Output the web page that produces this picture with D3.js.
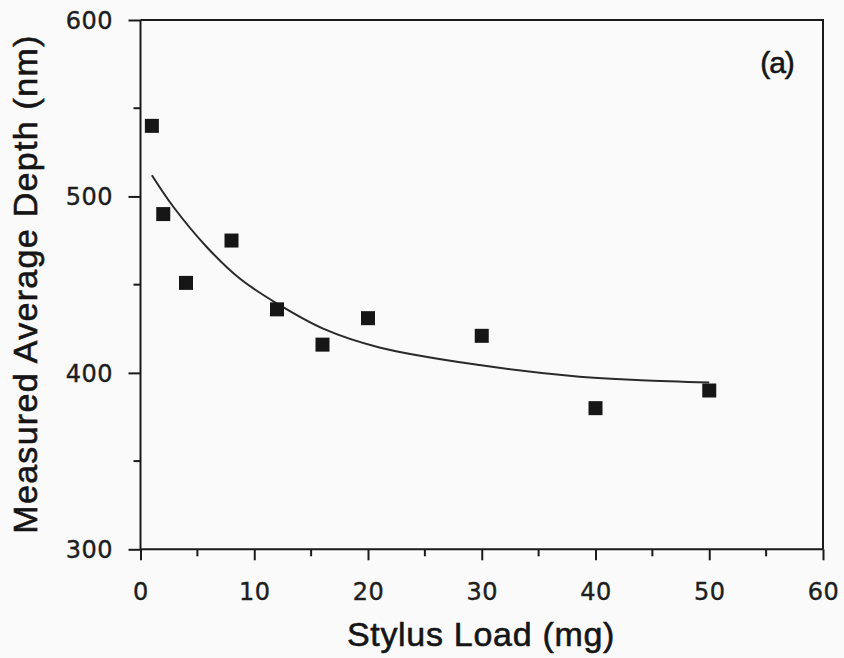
<!DOCTYPE html>
<html>
<head>
<meta charset="utf-8">
<script src="https://cdn.jsdelivr.net/npm/d3@7"></script>
<style>
  html, body { margin: 0; padding: 0; background: #fafafa; }
  svg { display: block; }
  .tick-label { font-family: "DejaVu Sans", sans-serif; font-size: 24px; fill: #1e1e1e; stroke: #1e1e1e; stroke-width: 0.4px; letter-spacing: 0.5px; }
  .title { font-family: "Liberation Sans", Arial, sans-serif; font-size: 34px; fill: #151515; stroke: #151515; stroke-width: 0.6px; }
</style>
</head>
<body>
<div id="chart"></div>
<script>
// measured points (stylus load in mg, depth in nm)
const loads = [1, 2, 4, 8, 12, 16, 20, 30, 40, 50];
const depths = [540, 490, 451, 475, 436, 416, 431, 421, 380, 390];

// fitted curve
const fitLoads = [1, 2.9, 5.8, 8.7, 12, 16, 21, 29.8, 38.6, 44, 50];
const fitDepths = [512, 494, 471.5, 453.6, 439.3, 425.2, 414.4, 404.4, 397.8, 395.8, 394.5];

const xTicks = [0, 10, 20, 30, 40, 50, 60];
const yTicks = [300, 400, 500, 600];

const width = 844, height = 658;
const plotLeft = 140.5, plotRight = 823, plotTop = 20, plotBottom = 549.3;

const svg = d3.select('#chart').append('svg')
  .attr('width', width)
  .attr('height', height);

const x = d3.scaleLinear().domain([0, 60]).range([plotLeft, plotRight]);
const y = d3.scaleLinear().domain([300, 600]).range([plotBottom, plotTop]);

const ink = '#1a1a1a';
const lw = 2;

// frame (top and right)
svg.append('path')
  .attr('d', `M${plotLeft},${plotTop}H${plotRight}V${plotBottom}`)
  .attr('fill', 'none')
  .attr('stroke', ink)
  .attr('stroke-width', lw);

// x axis with major + minor ticks
const xAxis = d3.axisBottom(x).tickValues(xTicks).tickSize(11).tickFormat('');
const gx = svg.append('g').attr('transform', `translate(0,${plotBottom})`).call(xAxis);
gx.selectAll('line, path').attr('stroke', ink).attr('stroke-width', lw);
gx.select('.domain').attr('d', `M${plotLeft},0H${plotRight}`);
svg.append('g').selectAll('line')
  .data(d3.range(5, 60, 10))
  .join('line')
  .attr('x1', d => x(d)).attr('x2', d => x(d))
  .attr('y1', plotBottom).attr('y2', plotBottom + 7)
  .attr('stroke', ink).attr('stroke-width', lw);

svg.append('g').selectAll('text')
  .data(xTicks)
  .join('text')
  .attr('class', 'tick-label')
  .attr('x', d => x(d) + 0.5)
  .attr('y', 599.5)
  .attr('text-anchor', 'middle')
  .text(d => d);

// y axis
const yAxis = d3.axisLeft(y).tickValues(yTicks).tickSize(12).tickFormat('');
const gy = svg.append('g').attr('transform', `translate(${plotLeft},0)`).call(yAxis);
gy.selectAll('line, path').attr('stroke', ink).attr('stroke-width', lw);
gy.select('.domain').attr('d', `M0,${plotTop}V${plotBottom}`);
svg.append('g').selectAll('line')
  .data([350, 450, 550])
  .join('line')
  .attr('x1', plotLeft - 7).attr('x2', plotLeft)
  .attr('y1', d => y(d)).attr('y2', d => y(d))
  .attr('stroke', ink).attr('stroke-width', lw);

svg.append('g').selectAll('text')
  .data(yTicks)
  .join('text')
  .attr('class', 'tick-label')
  .attr('x', 113)
  .attr('y', d => y(d) + 9)
  .attr('text-anchor', 'end')
  .text(d => d);

// axis titles
svg.append('text')
  .attr('class', 'title')
  .attr('x', 481)
  .attr('y', 646)
  .attr('text-anchor', 'middle')
  .style('letter-spacing', '0.7px')
  .text('Stylus Load (mg)');

svg.append('text')
  .attr('class', 'title')
  .attr('transform', 'translate(37,284) rotate(-90)')
  .attr('text-anchor', 'middle')
  .style('letter-spacing', '1.3px')
  .text('Measured Average Depth (nm)');

// panel label
svg.append('text')
  .attr('class', 'title')
  .attr('x', 777)
  .attr('y', 73)
  .attr('text-anchor', 'middle')
  .style('font-size', '30px')
  .style('letter-spacing', '-1px')
  .text('(a)');

// fitted curve
const line = d3.line()
  .x(d => x(d[0]))
  .y(d => y(d[1]))
  .curve(d3.curveCatmullRom);

svg.append('path')
  .datum(d3.zip(fitLoads, fitDepths))
  .attr('d', line)
  .attr('fill', 'none')
  .attr('stroke', '#2a2a2a')
  .attr('stroke-width', 2);

// data squares
const s = 14;
svg.append('g').selectAll('rect')
  .data(d3.zip(loads, depths))
  .join('rect')
  .attr('x', d => x(d[0]) - s / 2)
  .attr('y', d => y(d[1]) - s / 2)
  .attr('width', s)
  .attr('height', s)
  .attr('fill', '#161616');
</script>
</body>
</html>
